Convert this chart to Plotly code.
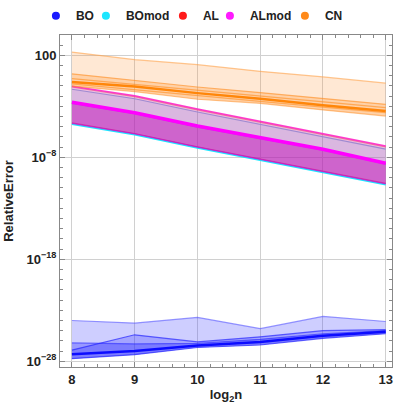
import plotly.graph_objects as go

# x positions (log2 n)
log2n = [8, 9, 10, 11, 12, 13]

# values stored as log10 of the relative error
bo_max = [-24.0, -24.26, -23.7, -24.8, -23.6, -24.1]
bo_peak = [-26.9, -25.4, -26.1, -25.6, -25.0, -24.9]
bo_mid = [-26.2, -26.3, -26.25, -25.85, -25.3, -25.0]
bo_med = [-27.3, -27.0, -26.45, -26.1, -25.5, -25.1]
bo_min = [-27.74, -27.35, -26.65, -26.4, -25.75, -25.3]

bomod_max = [-1.32, -2.25, -3.55, -4.75, -5.95, -7.2]
bomod_med = [-2.7, -3.72, -5.03, -6.15, -7.3, -8.67]
bomod_min = [-4.72, -5.76, -7.06, -8.26, -9.41, -10.66]

al_max = [-1.1, -2.05, -3.35, -4.55, -5.75, -6.98]
al_med = [-2.65, -3.68, -4.98, -6.1, -7.25, -8.62]
al_min = [-4.62, -5.66, -6.96, -8.16, -9.31, -10.56]

almod_max = [-1.02, -1.95, -3.25, -4.45, -5.65, -6.88]
almod_med = [-2.59, -3.62, -4.93, -6.05, -7.2, -8.57]
almod_min = [-4.66, -5.7, -7.0, -8.2, -9.35, -10.6]

cn_max = [2.33, 1.58, 1.09, 0.44, -0.11, -0.72]
cn_l1 = [0.19, -0.45, -1.1, -1.65, -2.25, -2.8]
cn_l2 = [-0.27, -0.85, -1.45, -2.0, -2.6, -3.13]
cn_med = [-0.6, -1.05, -1.7, -2.25, -2.9, -3.46]
cn_l4 = [-0.8, -1.35, -1.95, -2.5, -3.08, -3.62]
cn_min = [-1.02, -1.55, -2.3, -2.7, -3.35, -3.95]

names = ["BO", "BOmod", "AL", "ALmod", "CN"]
colors = ["#1a1aff", "#1ee6ff", "#ff1a1a", "#ff1aff", "#ff8a1a"]
legend_widths = [5, 32, 2, 30, 20]

fig = go.Figure()


def pw(e):
    return [10 ** v for v in e]


def line(e, color, width=1.2, fill=None, fillcolor=None):
    fig.add_trace(go.Scatter(
        x=log2n, y=pw(e), mode="lines",
        line=dict(color=color, width=width),
        fill=fill, fillcolor=fillcolor,
        showlegend=False, hoverinfo="skip"
    ))


# BO
line(bo_min, "rgba(40,40,255,0.7)")
line(bo_max, "rgba(80,80,255,0.6)", fill="tonexty", fillcolor="rgba(60,60,255,0.25)")
line(bo_min, "rgba(0,0,0,0)", width=0)
line(bo_peak, "rgba(40,40,255,0.7)", fill="tonexty", fillcolor="rgba(40,40,255,0.25)")
line(bo_min, "rgba(0,0,0,0)", width=0)
line(bo_mid, "rgba(40,40,255,0.6)", fill="tonexty", fillcolor="rgba(30,30,255,0.3)")
line(bo_med, "rgba(0,0,255,0.9)", width=2.5)

# BOmod
line(bomod_min, "rgba(0,230,255,0.9)", width=2)
line(bomod_max, "rgba(120,170,230,0.9)", fill="tonexty", fillcolor="rgba(0,200,255,0.12)")
line(bomod_med, "rgba(0,220,255,0.6)")

# AL
line(al_min, "rgba(255,30,30,0.5)")
line(al_max, "rgba(255,30,30,0.5)", fill="tonexty", fillcolor="rgba(255,0,0,0.08)")
line(al_med, "rgba(255,30,30,0.5)")

# ALmod
line(almod_min, "rgba(230,0,230,0.6)")
line(almod_max, "rgba(255,40,200,0.9)", width=1.5, fill="tonexty", fillcolor="rgba(200,80,200,0.3)")
line(almod_min, "rgba(0,0,0,0)", width=0)
line(almod_med, "rgba(255,0,255,1)", width=3.5, fill="tonexty", fillcolor="rgba(190,0,180,0.45)")

# CN
line(cn_min, "rgba(255,140,30,0.5)")
line(cn_max, "rgba(255,160,70,0.6)", fill="tonexty", fillcolor="rgba(255,150,60,0.22)")
line(cn_min, "rgba(0,0,0,0)", width=0)
line(cn_l1, "rgba(255,140,30,0.6)", fill="tonexty", fillcolor="rgba(255,140,30,0.25)")
line(cn_l2, "rgba(255,140,30,0.6)")
line(cn_l4, "rgba(255,140,30,0.6)")
line(cn_med, "rgba(255,130,0,0.95)", width=2.5)

# legend entries
for i, (n, c) in enumerate(zip(names, colors)):
    fig.add_trace(go.Scatter(
        x=[None], y=[None], mode="markers", name=n,
        marker=dict(color=c, size=8), legendrank=i + 1,
        legendwidth=legend_widths[i]
    ))

font_main = "Liberation Sans, Arial, sans-serif"
ymaj = [1e2, 1e-8, 1e-18, 1e-28]
ymaj_txt = ["100", "10<sup>\u22128</sup>", "10<sup>\u221218</sup>", "10<sup>\u221228</sup>"]
bold = dict(family=font_main, size=13, color="#222", weight="bold")

fig.update_xaxes(
    range=[7.81, 13.1], automargin=False,
    tickvals=log2n, ticktext=[str(v) for v in log2n],
    ticks="inside", ticklen=5, tickcolor="#888",
    showline=True, linecolor="#888", mirror="ticks",
    showgrid=True, gridcolor="#d0d0d0", gridwidth=1, zeroline=False,
    minor=dict(ticks="inside", ticklen=3, tickcolor="#888", dtick=0.2, tick0=8, showgrid=False),
    tickfont=bold,
    title=dict(text="log<sub>2</sub>n", font=bold, standoff=4),
)
fig.update_yaxes(
    type="log", range=[-28.56, 4.0], automargin=False,
    tickvals=ymaj, ticktext=ymaj_txt,
    ticks="inside", ticklen=5, tickcolor="#888",
    showline=True, linecolor="#888", mirror="ticks",
    showgrid=True, gridcolor="#d0d0d0", gridwidth=1, zeroline=False,
    minor=dict(ticks="inside", ticklen=3, tickcolor="#888",
               tickmode="array", tickvals=[10.0 ** k for k in range(-28, 5)], showgrid=False),
    tickfont=bold,
    title=dict(text="RelativeError", font=bold, standoff=9),
)

fig.update_layout(
    width=399, height=414,
    margin=dict(l=60, r=7, t=35, b=47, autoexpand=False),
    plot_bgcolor="white", paper_bgcolor="white",
    showlegend=True, hovermode=False,
    legend=dict(
        orientation="h", xref="container", yref="container",
        x=0.09, xanchor="left", y=0.962, yanchor="middle",
        font=dict(family=font_main, size=12, color="#222", weight="bold"),
        itemwidth=30, traceorder="normal",
    ),
)

fig.write_html(
    "out.html",
    config=dict(displayModeBar=False, staticPlot=True),
    post_script="document.body.style.margin='0px';",
)
